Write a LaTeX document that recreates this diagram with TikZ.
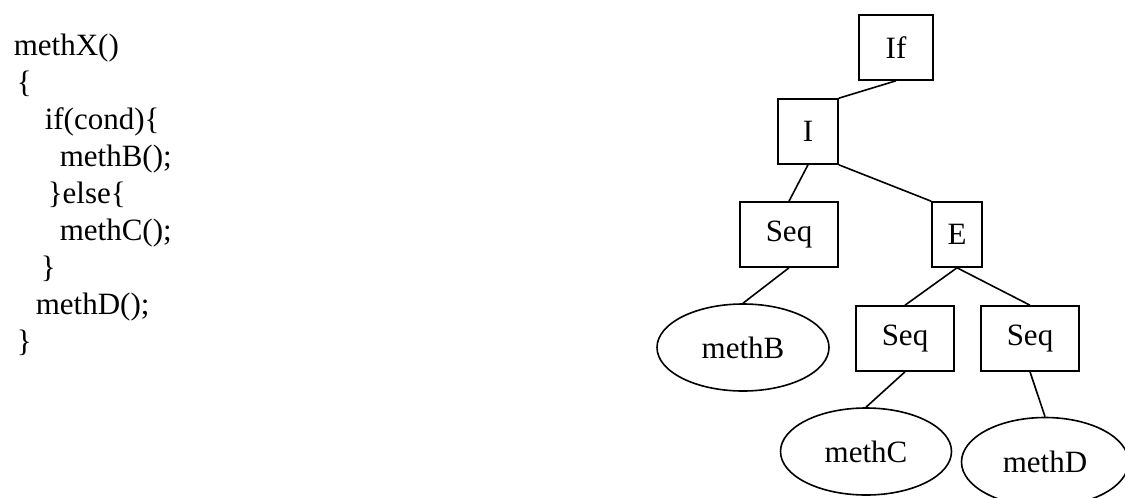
\documentclass[tikz,border=0pt]{standalone}
\usepackage{fontspec}
\setmainfont{Liberation Serif}
\usetikzlibrary{shapes.geometric}
\begin{document}
\begin{tikzpicture}[x=1pt,y=-1pt,line width=1.6pt,
	font=\fontsize{31}{37}\selectfont,
	astbox/.style={draw,rectangle,minimum height=65pt,inner sep=0pt},
	leaf/.style={draw,ellipse,inner sep=0pt,minimum height=87pt},
	codeline/.style={anchor=base west,inner sep=0pt}]
	\useasboundingbox (0,0) rectangle (1125,498);
	% source code
	\node[codeline] (l0) at (13,55) {methX()};
	\node[codeline] (l1) at (16,92) {\{};
	\node[codeline] (l2) at (44,129) {if(cond)\{};
	\node[codeline] (l3) at (59,166) {methB();};
	\node[codeline] (l4) at (47,203) {\}else\{};
	\node[codeline] (l5) at (59,240) {methC();};
	\node[codeline] (l6) at (40,277) {\}};
	\node[codeline] (l7) at (35,314) {methD();};
	\node[codeline] (l8) at (16,351) {\}};
	% tree
	\node[astbox,minimum width=74pt] (if) at (896,47.5) {If};
	\node[astbox,minimum width=60pt] (i) at (808,131.5) {I};
	\node[astbox,minimum width=98pt] (seqB) at (789,234.5) {Seq};
	\node[astbox,minimum width=50pt] (e) at (957,234.5) {E};
	\node[leaf,minimum width=172pt] (methB) at (743,347.5) {methB};
	\node[astbox,minimum width=98pt] (seqC) at (905,338.5) {Seq};
	\node[astbox,minimum width=98pt] (seqD) at (1030,338.5) {Seq};
	\node[leaf,minimum width=171pt] (methC) at (866,451.5) {methC};
	\node[leaf,minimum width=167pt,minimum height=89pt] (methD) at (1045,462) {methD};
	\draw (if.south) -- (i.north east);
	\draw (i.south) -- (seqB.north);
	\draw (i.south east) -- (e.north west);
	\draw (seqB.south) -- (methB.north);
	\draw (e.south) -- (seqC.north);
	\draw (e.south) -- (seqD.north);
	\draw (seqC.south) -- (methC.north);
	\draw (seqD.south) -- (methD.north);
\end{tikzpicture}
\end{document}
